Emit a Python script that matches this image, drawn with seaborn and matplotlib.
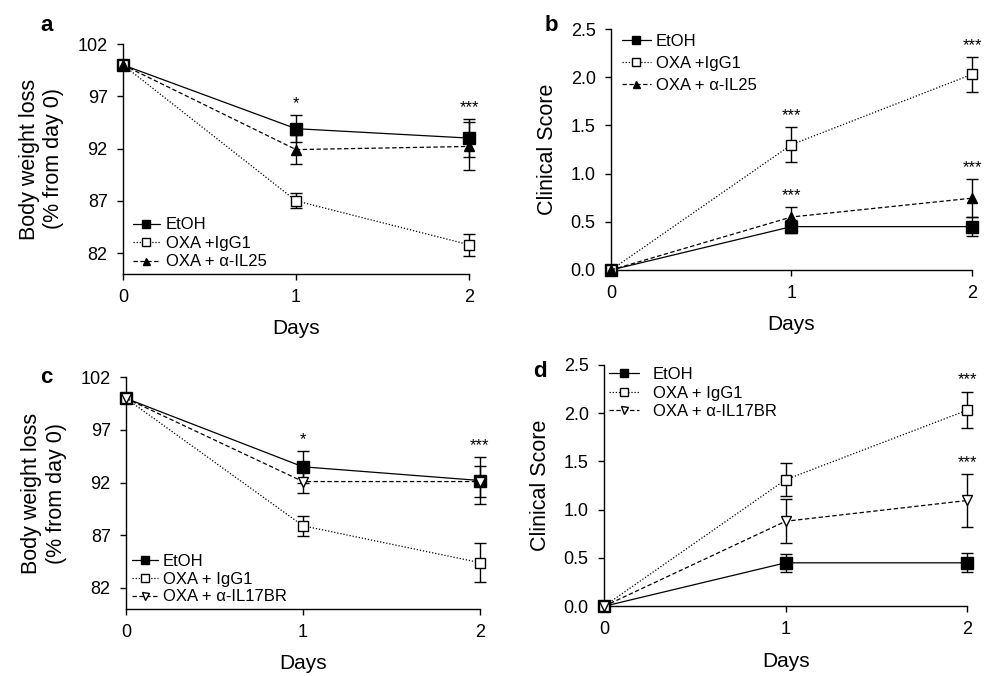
import matplotlib
matplotlib.use("Agg")
import matplotlib.pyplot as plt
import seaborn as sns
import pandas as pd

# ---- data ----
days = [0, 1, 2]

labels_ab = ["EtOH", "OXA +IgG1", "OXA + α-IL25"]
labels_cd = ["EtOH", "OXA + IgG1", "OXA + α-IL17BR"]

# panel a: body weight (% of day 0)
a_etoh = [100, 93.9, 93.0]
a_etoh_err = [0, 1.3, 1.8]
a_igg1 = [100, 87.0, 82.8]
a_igg1_err = [0, 0.7, 1.05]
a_il25 = [100, 91.9, 92.2]
a_il25_err = [0, 1.4, 2.3]

# panel b: clinical score
b_etoh = [0, 0.45, 0.45]
b_etoh_err = [0, 0.07, 0.10]
b_igg1 = [0, 1.30, 2.03]
b_igg1_err = [0, 0.18, 0.18]
b_il25 = [0, 0.55, 0.745]
b_il25_err = [0, 0.10, 0.20]

# panel c: body weight (% of day 0)
c_etoh = [100, 93.5, 92.2]
c_etoh_err = [0, 1.5, 2.2]
c_igg1 = [100, 87.9, 84.4]
c_igg1_err = [0, 0.95, 1.85]
c_il17br = [100, 92.1, 92.1]
c_il17br_err = [0, 1.05, 1.5]

# panel d: clinical score
d_etoh = [0, 0.45, 0.45]
d_etoh_err = [0, 0.09, 0.10]
d_igg1 = [0, 1.31, 2.03]
d_igg1_err = [0, 0.17, 0.19]
d_il17br = [0, 0.88, 1.095]
d_il17br_err = [0, 0.23, 0.27]

# significance marks: (day, index of series it sits above, text)
stars_a = [(1, 0, "*"), (2, 0, "***")]
stars_b = [(1, 1, "***"), (1, 2, "***"), (2, 1, "***"), (2, 2, "***")]
stars_c = [(1, 0, "*"), (2, 0, "***")]
stars_d = [(2, 1, "***"), (2, 2, "***")]

weight_ticks = [82, 87, 92, 97, 102]
score_ticks = [0.0, 0.5, 1.0, 1.5, 2.0, 2.5]

sns.set_theme(style="ticks", rc={
    "axes.edgecolor": "black", "axes.linewidth": 1.0,
    "xtick.color": "black", "ytick.color": "black",
    "text.color": "black", "axes.labelcolor": "black",
    "xtick.major.width": 1.0, "ytick.major.width": 1.0,
})
plt.rcParams["font.family"] = ["Liberation Sans", "DejaVu Sans"]

fig = plt.figure(figsize=(9.88, 6.76), dpi=100)


def draw_panel(ax, means, errs, labels, treat_marker, treat_face, stars, leg):
    styles = [
        dict(linestyle="-", marker="s", mfc="black", ms=8),
        dict(linestyle=(0, (1, 1.5)), marker="s", mfc="white", ms=7.2),
        dict(linestyle=(0, (3.5, 2)), marker=treat_marker, mfc=treat_face, ms=7),
    ]
    for m, e, lab, st in zip(means, errs, labels, styles):
        df = pd.DataFrame({"day": days, "value": m, "err": e})
        sns.lineplot(data=df, x="day", y="value", ax=ax, color="black",
                     linewidth=0.9, linestyle=st["linestyle"], marker=st["marker"],
                     markersize=st["ms"], markerfacecolor=st["mfc"],
                     markeredgecolor="black", markeredgewidth=1.0,
                     label=lab, clip_on=False, zorder=3)
        sub = df[df["err"] > 0]
        ax.errorbar(sub["day"], sub["value"], yerr=sub["err"], fmt="none",
                    ecolor="black", elinewidth=1.0, capsize=4.2, capthick=1.0,
                    clip_on=False, zorder=2)
    for day, idx, txt in stars:
        top = means[idx][day] + errs[idx][day]
        ax.annotate(txt, (day, top), xytext=(0, 3), textcoords="offset points",
                    ha="center", va="bottom", fontsize=12)
    ax.set_xlim(0, 2)
    ax.set_xticks(days)
    ax.set_xlabel("Days", fontsize=15, labelpad=10)
    ax.tick_params(axis="x", length=4.5, pad=6, labelsize=13)
    ax.tick_params(axis="y", length=4.5, pad=6.5, labelsize=13)
    sns.despine(ax=ax)
    ax.legend(loc=leg["loc"], bbox_to_anchor=leg["anchor"], frameon=False,
              fontsize=12, handlelength=leg["hl"], handletextpad=leg["hp"],
              labelspacing=leg["ls"], borderaxespad=0, borderpad=0,
              markerscale=0.72)


ax_a = fig.add_axes([0.1245, 0.5947, 0.3502, 0.3402])
draw_panel(ax_a, [a_etoh, a_igg1, a_il25], [a_etoh_err, a_igg1_err, a_il25_err],
           labels_ab, "^", "black", stars_a,
           dict(loc="lower left", anchor=(0.029, 0.02), hl=1.6, hp=0.36, ls=0.21))
ax_a.set_ylim(80, 102)
ax_a.set_yticks(weight_ticks)
ax_a.set_ylabel("Body weight loss\n(% from day 0)", fontsize=15.5, labelpad=10)

ax_b = fig.add_axes([0.6184, 0.6006, 0.3654, 0.3565])
draw_panel(ax_b, [b_etoh, b_igg1, b_il25], [b_etoh_err, b_igg1_err, b_il25_err],
           labels_ab, "^", "black", stars_b,
           dict(loc="upper left", anchor=(0.03, 0.98), hl=1.75, hp=0.3, ls=0.42))
ax_b.set_ylim(0, 2.5)
ax_b.set_yticks(score_ticks)
ax_b.set_yticklabels([f"{t:.1f}" for t in score_ticks])
ax_b.set_ylabel("Clinical Score", fontsize=15.5, labelpad=9)

ax_c = fig.add_axes([0.1275, 0.0991, 0.3583, 0.3428])
draw_panel(ax_c, [c_etoh, c_igg1, c_il17br], [c_etoh_err, c_igg1_err, c_il17br_err],
           labels_cd, "v", "white", stars_c,
           dict(loc="lower left", anchor=(0.017, 0.02), hl=1.55, hp=0.3, ls=0.17))
ax_c.set_ylim(80, 102)
ax_c.set_yticks(weight_ticks)
ax_c.set_ylabel("Body weight loss\n(% from day 0)", fontsize=15.5, labelpad=10)

ax_d = fig.add_axes([0.6113, 0.1031, 0.3677, 0.3574])
draw_panel(ax_d, [d_etoh, d_igg1, d_il17br], [d_etoh_err, d_igg1_err, d_il17br_err],
           labels_cd, "v", "white", stars_d,
           dict(loc="upper left", anchor=(0.014, 0.99), hl=1.8, hp=0.84, ls=0.21))
ax_d.set_ylim(0, 2.5)
ax_d.set_yticks(score_ticks)
ax_d.set_yticklabels([f"{t:.1f}" for t in score_ticks])
ax_d.set_ylabel("Clinical Score", fontsize=15.5, labelpad=9)

for letter, (x, y) in zip("abcd", [(0.047, 0.962), (0.558, 0.962), (0.047, 0.442), (0.546, 0.45)]):
    fig.text(x, y, letter, fontsize=16, fontweight="bold", ha="center", va="center")

fig.savefig("out.png", dpi=100)
